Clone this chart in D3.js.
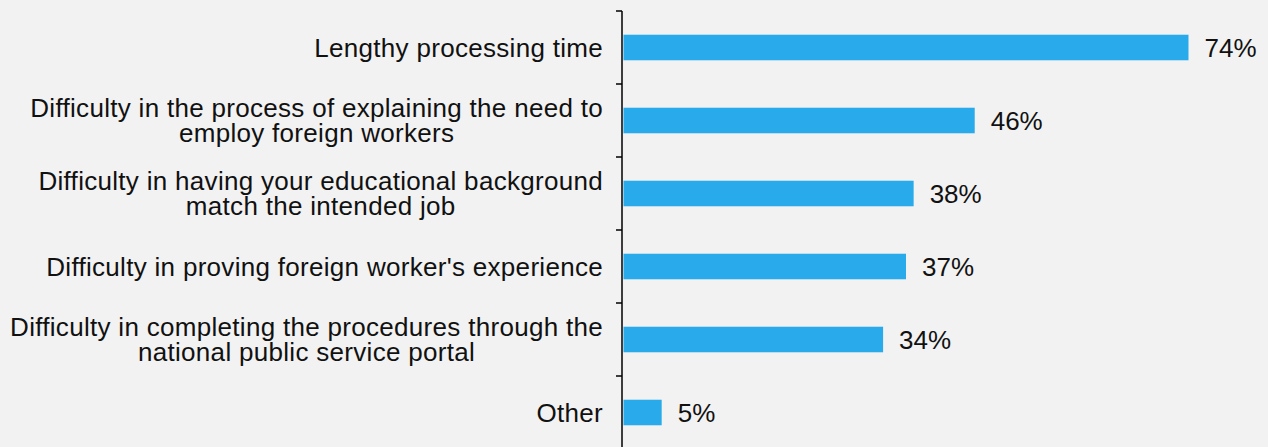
<!DOCTYPE html>
<html>
<head>
<meta charset="utf-8">
<script src="https://cdn.jsdelivr.net/npm/d3@7"></script>
<style>
  html, body { margin: 0; padding: 0; background: #f2f2f2; }
  svg { display: block; }
  text { font-family: "Liberation Sans", Arial, sans-serif; fill: #111; }
</style>
</head>
<body>
<svg id="chart" width="1268" height="447"></svg>
<script>
// Survey responses: obstacles when employing foreign workers
const categories = [
  ["Lengthy processing time"],
  ["Difficulty in the process of explaining the need to", "employ foreign workers"],
  ["Difficulty in having your educational background", "match the intended job"],
  ["Difficulty in proving foreign worker's experience"],
  ["Difficulty in completing the procedures through the", "national public service portal"],
  ["Other"]
];
const values = [74, 46, 38, 37, 34, 5];
const valueLabels = values.map(v => v + "%");

const svg = d3.select("#chart");
const axisX = 622;
const plotTop = 11, plotBottom = 449;

const y = d3.scaleBand()
  .domain(d3.range(categories.length))
  .range([plotTop, plotBottom])
  .paddingInner(0.65)
  .paddingOuter(0.325);

const x = d3.scaleLinear().domain([0, 74]).range([axisX + 1.5, 1188.5]);

// bars
svg.append("g").selectAll("rect")
  .data(values)
  .join("rect")
  .attr("x", x(0))
  .attr("y", (d, i) => y(i))
  .attr("width", d => x(d) - x(0))
  .attr("height", y.bandwidth())
  .attr("fill", "#29abeb");

// value labels
svg.append("g").selectAll("text")
  .data(values)
  .join("text")
  .attr("x", d => x(d) + 16)
  .attr("y", (d, i) => y(i) + y.bandwidth() / 2)
  .attr("dy", "0.35em")
  .attr("font-size", 26)
  .text((d, i) => valueLabels[i]);

// category axis with ticks between bands
const boundaries = d3.range(categories.length + 1)
  .map(i => plotTop + i * (plotBottom - plotTop) / categories.length);
const g = svg.append("g");
g.append("line")
  .attr("x1", axisX).attr("x2", axisX)
  .attr("y1", plotTop).attr("y2", plotBottom)
  .attr("stroke", "#000").attr("stroke-width", 1.5);
g.selectAll("line.tick")
  .data(boundaries)
  .join("line")
  .attr("class", "tick")
  .attr("x1", axisX - 6).attr("x2", axisX)
  .attr("y1", d => d).attr("y2", d => d)
  .attr("stroke", "#000").attr("stroke-width", 1.5);

// category labels (right aligned block, lines centred)
const lineH = 25;
const labels = svg.append("g").selectAll("text")
  .data(categories)
  .join("text")
  .attr("text-anchor", "middle")
  .attr("font-size", 26)
  .attr("letter-spacing", "0.3");
labels.each(function(lines, i) {
  const t = d3.select(this);
  const cy = y(i) + y.bandwidth() / 2;
  const y0 = cy - (lines.length - 1) * lineH / 2;
  lines.forEach((ln, j) => {
    t.append("tspan")
      .attr("y", y0 + j * lineH)
      .attr("dy", "0.35em")
      .text(ln);
  });
});
labels.each(function() {
  const t = d3.select(this);
  const spans = t.selectAll("tspan").nodes();
  const w = d3.max(spans, s => s.getComputedTextLength());
  t.selectAll("tspan").attr("x", 603 - w / 2);
});
</script>
</body>
</html>
